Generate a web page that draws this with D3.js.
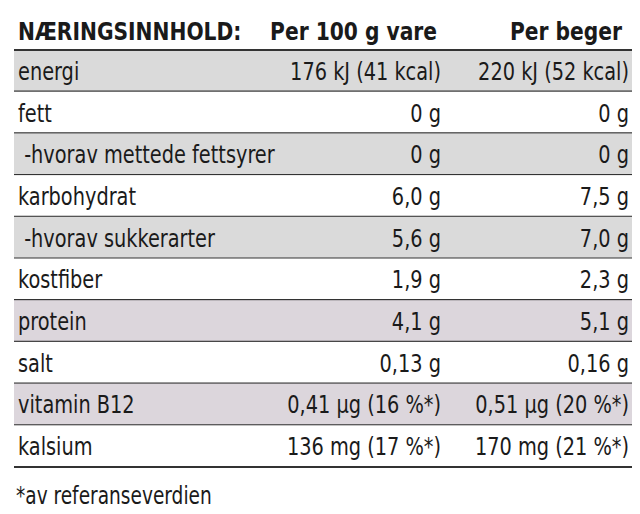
<!DOCTYPE html>
<html>
<head>
<style>
  body { margin: 0; background: #fff; }
  text { font-family: "DejaVu Sans Condensed", "DejaVu Sans", sans-serif; fill: #1a1a1a; }
</style>
</head>
<body>
<svg id="chart" width="640" height="514"></svg>
<script src="https://cdn.jsdelivr.net/npm/d3@7"></script>
<script>
const headers = ["NÆRINGSINNHOLD:", "Per 100 g vare", "Per beger"]
const nutrients = ["energi", "fett", " -hvorav mettede fettsyrer", "karbohydrat", " -hvorav sukkerarter", "kostfiber", "protein", "salt", "vitamin B12", "kalsium"]
const per100 = ["176 kJ (41 kcal)", "0 g", "0 g", "6,0 g", "5,6 g", "1,9 g", "4,1 g", "0,13 g", "0,41 µg (16 %*)", "136 mg (17 %*)"]
const perCup = ["220 kJ (52 kcal)", "0 g", "0 g", "7,5 g", "7,0 g", "2,3 g", "5,1 g", "0,16 g", "0,51 µg (20 %*)", "170 mg (21 %*)"]
const shaded = [true, false, true, false, true, false, true, false, true, false]
const footnote = "*av referanseverdien"

const svg = d3.select("#chart")
const left = 14, right = 632
const y = d3.scaleBand().domain(d3.range(nutrients.length)).range([50, 467])
const sx = 0.86

const rows = svg.selectAll("g.row").data(nutrients).join("g")
  .attr("class", "row")
  .attr("transform", (d, i) => `translate(0,${y(i)})`)

rows.append("rect")
  .attr("x", left).attr("width", right - left)
  .attr("height", y.bandwidth())
  .attr("fill", (d, i) => !shaded[i] ? "#fff" : (i >= 6 ? "#dcd6dc" : "#dadada"))

rows.append("line")
  .attr("x1", left).attr("x2", right)
  .attr("y1", y.bandwidth()).attr("y2", y.bandwidth())
  .attr("stroke", "#333").attr("stroke-width", 2.2)

const fs = 25
const ty = y.bandwidth() / 2 + 9
rows.append("text").attr("transform", `translate(${left + 4},${ty}) scale(${sx},1)`)
  .attr("font-size", fs).style("white-space", "pre").text(d => d)
rows.append("text").attr("transform", `translate(441,${ty}) scale(${sx},1)`)
  .attr("font-size", fs).attr("text-anchor", "end").text((d, i) => per100[i])
rows.append("text").attr("transform", `translate(629,${ty}) scale(${sx},1)`)
  .attr("font-size", fs).attr("text-anchor", "end").text((d, i) => perCup[i])

svg.append("line").attr("x1", left).attr("x2", right).attr("y1", 50).attr("y2", 50)
  .attr("stroke", "#333").attr("stroke-width", 2.2)

const hx = [left + 4, 437, 622]
const ha = ["start", "end", "end"]
svg.selectAll("text.head").data(headers).join("text")
  .attr("class", "head")
  .attr("transform", (d, i) => `translate(${hx[i]},40) scale(0.9,1)`)
  .attr("text-anchor", (d, i) => ha[i])
  .attr("font-size", 25).attr("font-weight", "bold")
  .text(d => d)

svg.append("text").attr("transform", `translate(${left + 2},504) scale(${sx},1)`)
  .attr("font-size", 24).text(footnote)
</script>
</body>
</html>
